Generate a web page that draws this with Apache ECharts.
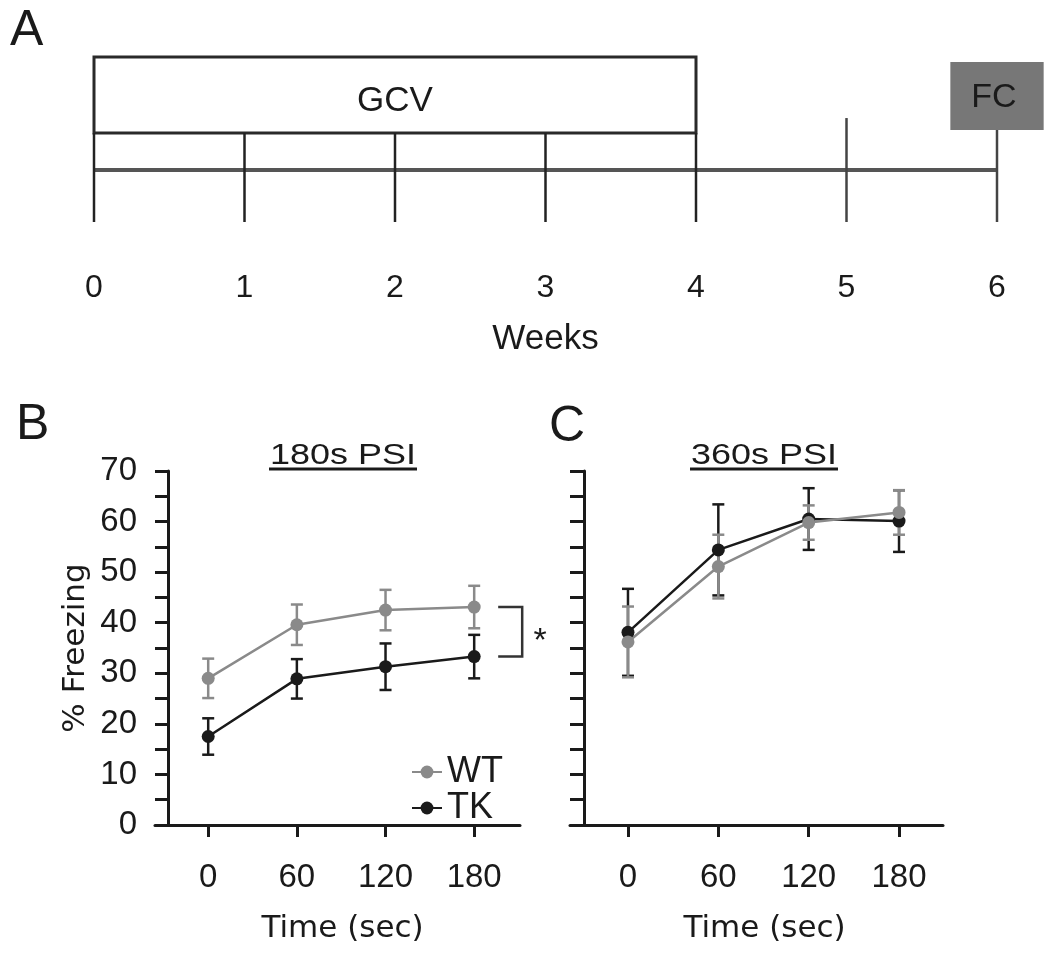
<!DOCTYPE html>
<html><head><meta charset="utf-8">
<script src="https://cdn.jsdelivr.net/npm/echarts@6/dist/echarts.min.js"></script>
<style>html,body{margin:0;padding:0;background:#fff}#c{width:1050px;height:966px}</style>
</head><body><div id="c"></div>
<script>
// ---------- data ----------
const weeks = [0, 1, 2, 3, 4, 5, 6];
const gcvSpan = [0, 4];          // GCV treatment, weeks
const fcWeek = 6;                // fear conditioning
const gcvLabel = 'GCV';
const fcLabel = 'FC';

const timeSec = [0, 60, 120, 180];
const yTicksMax = 70;

const wt180Mean = [29.0, 39.6, 42.5, 43.1];
const wt180Sem  = [3.9, 4.0, 4.0, 4.2];
const tk180Mean = [17.5, 28.9, 31.3, 33.3];
const tk180Sem  = [3.6, 3.9, 4.6, 4.3];

const wt360Mean = [36.2, 51.1, 59.8, 61.8];
const wt360Sem  = [7.0, 6.3, 3.4, 4.4];
const tk360Mean = [38.1, 54.4, 60.5, 60.1];
const tk360Sem  = [8.6, 9.0, 6.1, 6.1];

const panelTitles = ['180s PSI', '360s PSI'];
const panelLetters = ['A', 'B', 'C'];
const sigMark = '*';

// ---------- style ----------
const FONT = '"Liberation Sans", Arial, sans-serif';
const WIDE = '"DejaVu Sans", sans-serif';
const INK = '#1a1a1a';
const GRAY = '#8a8a8a';
const LV = { boxBottom: 0.539, line: 0.315, w5Top: 0.63, fcBottom: 0.558, fcTop: 0.97 };

function pairs(xs, ys) { return xs.map((x, i) => [x, ys[i]]); }
function triples(xs, ys, es) { return xs.map((x, i) => [x, ys[i], es[i]]); }

function errBar(color) {
  return function (params, api) {
    const x = api.value(0), m = api.value(1), e = api.value(2);
    const t = api.coord([x, m + e]), b = api.coord([x, m - e]);
    const hw = 6;
    const st = { stroke: color, lineWidth: 2.5 };
    return { type: 'group', children: [
      { type: 'line', shape: { x1: t[0], y1: t[1], x2: b[0], y2: b[1] }, style: st },
      { type: 'line', shape: { x1: t[0] - hw, y1: t[1], x2: t[0] + hw, y2: t[1] }, style: st },
      { type: 'line', shape: { x1: b[0] - hw, y1: b[1], x2: b[0] + hw, y2: b[1] }, style: st }
    ]};
  };
}

function timeXAxis(gridIndex, min, max, namePadLeft) {
  return {
    type: 'value', gridIndex, min, max,
    axisLine: { show: true, onZero: false, lineStyle: { color: INK, width: 3 } },
    axisTick: { show: true, customValues: timeSec, length: 12, lineStyle: { color: INK, width: 3 } },
    axisLabel: { customValues: timeSec, fontFamily: FONT, fontSize: 33, color: INK, margin: 36 },
    splitLine: { show: false },
    name: 'Time (sec)', nameLocation: 'middle', nameGap: 88,
    nameTextStyle: { fontFamily: WIDE, fontSize: 31, color: INK, padding: [0, 0, 0, namePadLeft] }
  };
}

function freezeYAxis(gridIndex, offset, tickLen, showLabels) {
  return {
    type: 'value', gridIndex, min: 0, max: yTicksMax, interval: 10, offset,
    axisLine: { show: true, onZero: false, lineStyle: { color: INK, width: 3 } },
    axisTick: { show: true, length: tickLen, lineStyle: { color: INK, width: 3 } },
    minorTick: { show: true, splitNumber: 2, length: tickLen, lineStyle: { color: INK, width: 3 } },
    axisLabel: { show: showLabels, fontFamily: FONT, fontSize: 33, color: INK, margin: 31 },
    splitLine: { show: false },
    name: showLabels ? '% Freezing' : '', nameLocation: 'middle', nameGap: 77,
    nameTextStyle: { fontFamily: WIDE, fontSize: 31, color: INK }
  };
}

const chart = echarts.init(document.getElementById('c'));

const option = {
  animation: false,
  backgroundColor: '#fff',
  grid: [
    { left: 94, top: 57, width: 903, height: 165 },
    { left: 155, top: 471, width: 365, height: 354 },
    { left: 570, top: 471, width: 373, height: 354 }
  ],
  xAxis: [
    {
      type: 'value', gridIndex: 0, min: 0, max: 6, interval: 1,
      axisLine: { show: false }, axisTick: { show: false }, splitLine: { show: false },
      axisLabel: { fontFamily: FONT, fontSize: 32, color: INK, margin: 50, showMinLabel: true, showMaxLabel: true },
      name: 'Weeks', nameLocation: 'middle', nameGap: 100,
      nameTextStyle: { fontFamily: FONT, fontSize: 35, color: INK }
    },
    timeXAxis(1, -36, 211, 10),
    timeXAxis(2, -38.5, 209.2, 16)
  ],
  yAxis: [
    { type: 'value', gridIndex: 0, min: 0, max: 1, show: false },
    freezeYAxis(1, -13, 13, true),
    freezeYAxis(2, -14, 14, false)
  ],
  legend: {
    data: ['WT', 'TK'], orient: 'vertical', left: 406, top: 749,
    itemWidth: 30, itemHeight: 16, itemGap: 0,
    textStyle: { fontFamily: FONT, fontSize: 36, color: INK, lineHeight: 32 }
  },
  graphic: [
    { type: 'text', left: 10, top: 6, style: { text: panelLetters[0], font: '50px "Liberation Sans", Arial', fill: INK } },
    { type: 'text', left: 16, top: 400, style: { text: panelLetters[1], font: '50px "Liberation Sans", Arial', fill: INK } },
    { type: 'text', left: 549, top: 402, style: { text: panelLetters[2], font: '50px "Liberation Sans", Arial', fill: INK } },
    { type: 'text', x: 343, y: 456, scaleX: 1.24, style: { text: panelTitles[0], font: '29px "Liberation Sans", Arial', fill: INK, align: 'center', verticalAlign: 'middle' } },
    { type: 'line', shape: { x1: 269, y1: 469, x2: 417, y2: 469 }, style: { stroke: INK, lineWidth: 3 } },
    { type: 'text', x: 764, y: 456, scaleX: 1.24, style: { text: panelTitles[1], font: '29px "Liberation Sans", Arial', fill: INK, align: 'center', verticalAlign: 'middle' } },
    { type: 'line', shape: { x1: 690, y1: 469, x2: 838, y2: 469 }, style: { stroke: INK, lineWidth: 3 } }
  ],
  series: [
    // ---------- Panel A ----------
    {
      type: 'custom', xAxisIndex: 0, yAxisIndex: 0, data: [gcvSpan],
      renderItem: function (params, api) {
        const tl = api.coord([api.value(0), 1]);
        const br = api.coord([api.value(1), LV.boxBottom]);
        return { type: 'group', children: [
          { type: 'rect', shape: { x: tl[0], y: tl[1], width: br[0] - tl[0], height: br[1] - tl[1] },
            style: { fill: '#fff', stroke: '#2a2a2a', lineWidth: 3 } },
          { type: 'text', style: { text: gcvLabel, x: (tl[0] + br[0]) / 2, y: (tl[1] + br[1]) / 2 + 6,
            align: 'center', verticalAlign: 'middle', font: '35px "Liberation Sans", Arial', fill: INK } }
        ]};
      }
    },
    {
      type: 'custom', xAxisIndex: 0, yAxisIndex: 0, data: [[weeks[0], weeks[weeks.length - 1]]],
      renderItem: function (params, api) {
        const a = api.coord([api.value(0), LV.line]);
        const b = api.coord([api.value(1), LV.line]);
        return { type: 'line', shape: { x1: a[0], y1: a[1], x2: b[0], y2: b[1] }, style: { stroke: '#555', lineWidth: 4 } };
      }
    },
    {
      type: 'custom', xAxisIndex: 0, yAxisIndex: 0, data: weeks.map(w => [w]),
      renderItem: function (params, api) {
        const w = api.value(0);
        const topLv = w <= gcvSpan[1] ? LV.boxBottom : (w === fcWeek ? LV.fcBottom : LV.w5Top);
        const a = api.coord([w, topLv]);
        const b = api.coord([w, 0]);
        return { type: 'line', shape: { x1: a[0], y1: a[1], x2: b[0], y2: b[1] },
          style: { stroke: w <= gcvSpan[1] ? '#222' : '#444', lineWidth: 2.5 } };
      }
    },
    {
      type: 'custom', xAxisIndex: 0, yAxisIndex: 0, data: [[fcWeek]],
      renderItem: function (params, api) {
        const w = api.value(0);
        const tl = api.coord([w - 0.31, LV.fcTop]);
        const br = api.coord([w + 0.31, LV.fcBottom]);
        return { type: 'group', children: [
          { type: 'rect', shape: { x: tl[0], y: tl[1], width: br[0] - tl[0], height: br[1] - tl[1] },
            style: { fill: '#777777' } },
          { type: 'text', style: { text: fcLabel, x: (tl[0] + br[0]) / 2 - 3, y: (tl[1] + br[1]) / 2 + 2,
            align: 'center', verticalAlign: 'middle', font: '34px "Liberation Sans", Arial', fill: INK } }
        ]};
      }
    },
    // ---------- Panel B ----------
    { type: 'line', name: 'WT', xAxisIndex: 1, yAxisIndex: 1, data: pairs(timeSec, wt180Mean), z: 3,
      symbol: 'circle', symbolSize: 13, itemStyle: { color: GRAY }, lineStyle: { color: GRAY, width: 2.5 } },
    { type: 'line', name: 'TK', xAxisIndex: 1, yAxisIndex: 1, data: pairs(timeSec, tk180Mean), z: 3,
      symbol: 'circle', symbolSize: 13, itemStyle: { color: INK }, lineStyle: { color: INK, width: 2.5 } },
    { type: 'custom', xAxisIndex: 1, yAxisIndex: 1, data: triples(timeSec, wt180Mean, wt180Sem),
      renderItem: errBar(GRAY) },
    { type: 'custom', xAxisIndex: 1, yAxisIndex: 1, data: triples(timeSec, tk180Mean, tk180Sem),
      renderItem: errBar(INK) },
    {
      type: 'custom', xAxisIndex: 1, yAxisIndex: 1,
      data: [[timeSec[3], wt180Mean[3], tk180Mean[3]]],
      renderItem: function (params, api) {
        const p1 = api.coord([api.value(0), api.value(1)]);
        const p2 = api.coord([api.value(0), api.value(2)]);
        const x0 = p1[0] + 24, x1 = p1[0] + 48;
        const st = { stroke: '#333', lineWidth: 2.5, fill: null };
        return { type: 'group', children: [
          { type: 'polyline', shape: { points: [[x0, p1[1]], [x1, p1[1]], [x1, p2[1]], [x0, p2[1]]] }, style: st },
          { type: 'text', style: { text: sigMark, x: x1 + 18, y: (p1[1] + p2[1]) / 2 + 10,
            align: 'center', verticalAlign: 'middle', font: '34px "Liberation Sans", Arial', fill: INK } }
        ]};
      }
    },
    // ---------- Panel C ----------
    { type: 'custom', xAxisIndex: 2, yAxisIndex: 2, data: triples(timeSec, tk360Mean, tk360Sem),
      renderItem: errBar(INK) },
    { type: 'line', name: 'TK', xAxisIndex: 2, yAxisIndex: 2, data: pairs(timeSec, tk360Mean),
      symbol: 'circle', symbolSize: 13, itemStyle: { color: INK }, lineStyle: { color: INK, width: 2.5 } },
    { type: 'custom', xAxisIndex: 2, yAxisIndex: 2, data: triples(timeSec, wt360Mean, wt360Sem),
      renderItem: errBar(GRAY) },
    { type: 'line', name: 'WT', xAxisIndex: 2, yAxisIndex: 2, data: pairs(timeSec, wt360Mean),
      symbol: 'circle', symbolSize: 13, itemStyle: { color: GRAY }, lineStyle: { color: GRAY, width: 2.5 } }
  ]
};

chart.setOption(option);
</script>
</body></html>
